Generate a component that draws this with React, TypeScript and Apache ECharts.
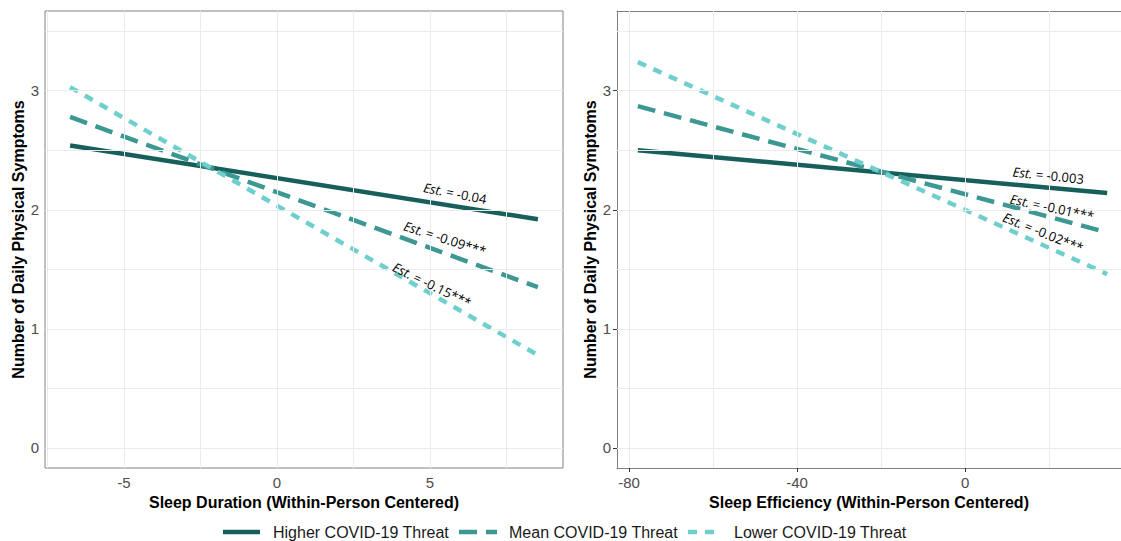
import React, { useEffect, useRef } from "react";
import * as echarts from "echarts";

// ---- Data ----
const HIGHER = "Higher COVID-19 Threat";
const MEAN = "Mean COVID-19 Threat";
const LOWER = "Lower COVID-19 Threat";
const legendNames = [HIGHER, MEAN, LOWER];

const durationX = [-6.76, 8.53];
const durationHigher = [2.54, 1.92];
const durationMean = [2.78, 1.35];
const durationLower = [3.03, 0.78];

const efficiencyX = [-77.9, 33.8];
const efficiencyHigher = [2.5, 2.14];
const efficiencyMean = [2.87, 1.81];
const efficiencyLower = [3.24, 1.46];

const yTicks = [0, 1, 2, 3];
const yGridValues = [0, 0.5, 1, 1.5, 2, 2.5, 3, 3.5];
const durationTicks = [-5, 0, 5];
const durationGridValues = [-7.5, -5, -2.5, 0, 2.5, 5, 7.5];
const efficiencyTicks = [-80, -40, 0];
const efficiencyGridValues = [-80, -60, -40, -20, 0, 20];

const durationLabels = ["-0.04", "-0.09***", "-0.15***"];
const efficiencyLabels = ["-0.003", "-0.01***", "-0.02***"];
// annotation anchors (data space) and text angles (degrees)
const durationAnchors = [[5.82, 2.14], [5.49, 1.76], [5.07, 1.37]];
const durationAngles = [11, 18, 26];
const efficiencyAnchors = [[19.8, 2.29], [20.7, 2.02], [18.6, 1.81]];
const efficiencyAngles = [6, 12, 22];

const COLORS = { higher: "#175f5b", mean: "#3d9893", lower: "#6fcfcd" };
const FONT = "'Liberation Sans', Arial, sans-serif";
const NOTE_FONT = "'Open Sans', Lato, sans-serif";

const pairs = (xs: number[], ys: number[]) => xs.map((x, i) => [x, ys[i]]);

export default function App() {
  const ref = useRef<HTMLDivElement>(null);

  useEffect(() => {
    if (!ref.current) return;
    const chart = echarts.init(ref.current, null, { renderer: "svg" });

    const lineStyles: Record<string, any> = {
      higher: { color: COLORS.higher, width: 4.5, type: "solid" },
      mean: { color: COLORS.mean, width: 4.5, type: [18, 9] },
      lower: { color: COLORS.lower, width: 4.5, type: [9, 8] },
    };
    const styleList = [lineStyles.higher, lineStyles.mean, lineStyles.lower];

    const gridSeries = (idx: number, xs: number[]) => ({
      type: "line",
      xAxisIndex: idx,
      yAxisIndex: idx,
      data: [],
      silent: true,
      z: 1,
      markLine: {
        silent: true,
        animation: false,
        symbol: ["none", "none"],
        label: { show: false },
        lineStyle: { color: "#ebebeb", width: 1, type: "solid" },
        data: [
          ...xs.map((v) => ({ xAxis: v })),
          ...yGridValues.map((v) => ({ yAxis: v })),
        ],
      },
    });

    const lineSeries = (name: string, idx: number, xs: number[], ys: number[], ls: any) => ({
      type: "line",
      name,
      xAxisIndex: idx,
      yAxisIndex: idx,
      data: pairs(xs, ys),
      symbol: "none",
      showSymbol: false,
      lineStyle: ls,
      itemStyle: { color: ls.color },
      z: 3,
    });

    const borderLine = { show: true, onZero: false, lineStyle: { color: "#808080", width: 1 } };

    const xAxisBase = (idx: number, min: number, max: number, ticks: number[], name: string, showLine: boolean) => ({
      type: "value",
      gridIndex: idx,
      min,
      max,
      name,
      nameLocation: "middle",
      nameGap: 26,
      nameTextStyle: { fontFamily: FONT, fontWeight: "bold", fontSize: 16, color: "#000" },
      axisLine: showLine ? borderLine : { show: false },
      splitLine: { show: false },
      axisTick: { show: true, customValues: ticks, length: 4, lineStyle: { color: "#333" } },
      axisLabel: { customValues: ticks, fontFamily: FONT, fontSize: 15, color: "#4d4d4d", margin: 7 },
    });

    const yAxisBase = (idx: number, showLine: boolean) => ({
      type: "value",
      gridIndex: idx,
      min: -0.168,
      max: 3.669,
      name: "Number of Daily Physical Symptoms",
      nameLocation: "middle",
      nameGap: 19,
      nameTextStyle: { fontFamily: FONT, fontWeight: "bold", fontSize: 16, color: "#000" },
      axisLine: showLine ? borderLine : { show: false },
      splitLine: { show: false },
      axisTick: { show: true, customValues: yTicks, length: 4, lineStyle: { color: "#333" } },
      axisLabel: { customValues: yTicks, fontFamily: FONT, fontSize: 15, color: "#4d4d4d", margin: 6 },
    });

    const effMin = -82.86;
    const effMax = 37.1;

    chart.setOption({
      animation: false,
      backgroundColor: "#fff",
      textStyle: { fontFamily: FONT },
      grid: [
        { left: 45, width: 518, top: 11, bottom: 73, show: true, borderColor: "#808080", borderWidth: 1, backgroundColor: "transparent" },
        { left: 617, right: 0, top: 11, bottom: 73, show: false },
      ],
      xAxis: [
        xAxisBase(0, -7.58, 9.35, durationTicks, "Sleep Duration (Within-Person Centered)", false),
        xAxisBase(1, effMin, effMax, efficiencyTicks, "Sleep Efficiency (Within-Person Centered)", true),
        {
          type: "value",
          gridIndex: 1,
          position: "top",
          min: effMin,
          max: effMax,
          axisLine: borderLine,
          axisTick: { show: false },
          axisLabel: { show: false },
          splitLine: { show: false },
        },
      ],
      yAxis: [yAxisBase(0, false), yAxisBase(1, true)],
      series: [
        gridSeries(0, durationGridValues),
        gridSeries(1, efficiencyGridValues),
        lineSeries(HIGHER, 0, durationX, durationHigher, lineStyles.higher),
        lineSeries(MEAN, 0, durationX, durationMean, lineStyles.mean),
        lineSeries(LOWER, 0, durationX, durationLower, lineStyles.lower),
        lineSeries(HIGHER, 1, efficiencyX, efficiencyHigher, lineStyles.higher),
        lineSeries(MEAN, 1, efficiencyX, efficiencyMean, lineStyles.mean),
        lineSeries(LOWER, 1, efficiencyX, efficiencyLower, lineStyles.lower),
      ],
    });

    const graphics: any[] = [];
    const addNotes = (gridIndex: number, labels: string[], anchors: number[][], angles: number[]) => {
      labels.forEach((lab, i) => {
        const p = chart.convertToPixel({ gridIndex } as any, anchors[i]) as number[];
        if (!p) return;
        graphics.push({
          type: "text",
          x: p[0],
          y: p[1],
          rotation: (-angles[i] * Math.PI) / 180,
          z: 10,
          style: {
            text: "{i|Est.} = " + lab,
            fontFamily: NOTE_FONT,
            fontSize: 13,
            fill: "#000",
            align: "center",
            verticalAlign: "middle",
            rich: { i: { fontStyle: "italic", fontFamily: NOTE_FONT, fontSize: 13, fill: "#000" } },
          },
        });
      });
    };
    addNotes(0, durationLabels, durationAnchors, durationAngles);
    addNotes(1, efficiencyLabels, efficiencyAnchors, efficiencyAngles);

    // legend (drawn manually so the keys show the line styles without symbols)
    const legendY = 532;
    const keyX = [223, 459, 688];
    const keyW = [37, 38, 32];
    const textX = [273, 509, 734];
    legendNames.forEach((name, i) => {
      const ls = styleList[i];
      graphics.push({
        type: "line",
        shape: { x1: keyX[i], y1: legendY, x2: keyX[i] + keyW[i], y2: legendY },
        style: {
          stroke: ls.color,
          lineWidth: 4.5,
          lineDash: Array.isArray(ls.type) ? ls.type : null,
        },
      });
      graphics.push({
        type: "text",
        x: textX[i],
        y: legendY,
        style: {
          text: name,
          fontFamily: FONT,
          fontSize: 16,
          fill: "#1a1a1a",
          align: "left",
          verticalAlign: "middle",
        },
      });
    });

    chart.setOption({ graphic: graphics });

    return () => chart.dispose();
  }, []);

  return <div ref={ref} style={{ position: "absolute", left: 0, top: 0, width: 1121, height: 541 }} />;
}
